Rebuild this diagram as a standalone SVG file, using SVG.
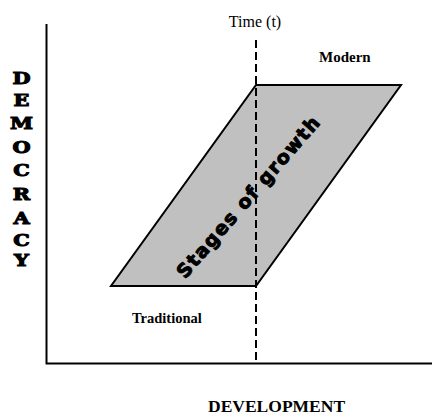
<svg xmlns="http://www.w3.org/2000/svg" width="433" height="417" viewBox="0 0 433 417">
  <style>
    .axis { stroke: #000; stroke-width: 2; fill: none; }
    .time { stroke: #000; stroke-width: 2; stroke-dasharray: 8 4; fill: none; }
    .band { fill: #c0c0c0; stroke: #000; stroke-width: 2; stroke-linejoin: miter; }
    .lbl { font-family: "Liberation Serif", "Times New Roman", serif; fill: #000; }
    .bold { font-weight: bold; }
    .heavy { font-family: "DejaVu Serif", "Liberation Serif", serif; font-weight: bold; fill: #000; stroke: #000; stroke-width: 1; text-anchor: middle; font-size: 16px; }
    .stage { font-family: "DejaVu Sans", "Liberation Sans", sans-serif; font-weight: bold; fill: #000; stroke: #000; stroke-width: 1; letter-spacing: 1.5px; }
  </style>
  <rect width="433" height="417" fill="#fff"/>

  <!-- growth band between traditional and modern -->
  <g id="growth-band">
    <polygon class="band" points="111,286 256,286 401,85 256,85"/>
    <text class="stage" font-size="19" text-anchor="middle" transform="translate(249,197) rotate(-49)" x="0" y="6">Stages of growth</text>
  </g>

  <!-- axes and time marker -->
  <g id="connectors">
    <polyline class="axis" points="46.5,24 46.5,363.5 432,363.5"/>
    <line class="time" x1="256" y1="40" x2="256" y2="364"/>
  </g>

  <g id="time-label">
    <text class="lbl" font-size="16" x="255" y="27" text-anchor="middle">Time (t)</text>
  </g>

  <g id="modern">
    <text class="lbl bold" font-size="15" x="319" y="62">Modern</text>
  </g>

  <g id="traditional">
    <text class="lbl bold" font-size="14.5" x="132" y="323">Traditional</text>
  </g>

  <g id="x-axis-label">
    <text class="lbl bold" font-size="17.5" x="208" y="412">DEVELOPMENT</text>
  </g>

  <!-- vertical axis title, one letter per row -->
  <g id="y-axis-label" transform="translate(21.5,0) scale(1.3,1)">
    <text class="heavy" x="0" y="84">D</text>
    <text class="heavy" x="0" y="106">E</text>
    <text class="heavy" x="0" y="129">M</text>
    <text class="heavy" x="0" y="153">O</text>
    <text class="heavy" x="0" y="176">C</text>
    <text class="heavy" x="0" y="200">R</text>
    <text class="heavy" x="0" y="224">A</text>
    <text class="heavy" x="0" y="246">C</text>
    <text class="heavy" x="0" y="266">Y</text>
  </g>
</svg>
